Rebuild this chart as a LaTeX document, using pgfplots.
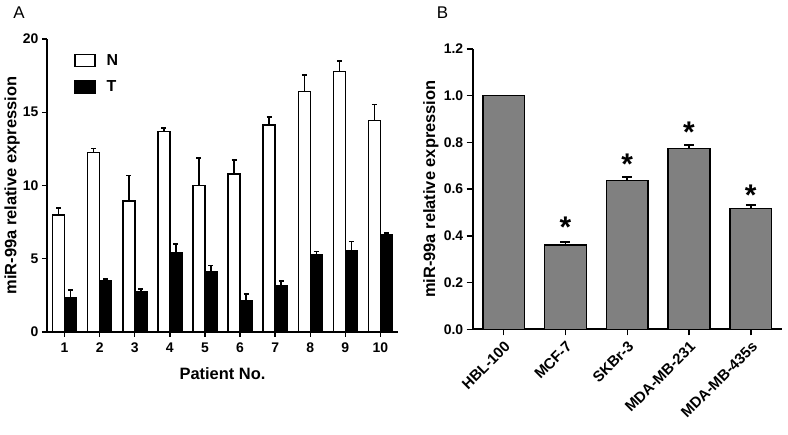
\documentclass[border=0pt]{standalone}
\usepackage{pgfplots}
\pgfplotsset{compat=1.18}
\usepackage{fontspec}
\setmainfont{Liberation Sans}
\definecolor{bargray}{RGB}{128,128,128}
\begin{document}
\begin{tikzpicture}
\path[use as bounding box] (0,0) rectangle (788bp,435bp);
\node[font=\fontsize{17}{17}\selectfont] at (19bp,422bp) {A};
\node[font=\fontsize{17}{17}\selectfont] at (442.5bp,422bp) {B};
\begin{axis}[
  at={(47bp,103bp)}, anchor=south west,
  scale only axis, width=351bp, height=293bp,
  xmin=0.5, xmax=10.5, ymin=0, ymax=20,
  axis x line*=bottom, axis y line*=left,
  axis line style={line width=1.6bp, black},
  xtick={1,...,10}, ytick={0,5,10,15,20},
  tick align=outside, major tick length=5bp,
  tick style={line width=1.4bp, black},
  /pgf/number format/assume math mode=true,
  tick label style={font=\fontsize{14}{14}\selectfont\bfseries},
  xticklabel style={yshift=-2bp},
  xlabel={Patient No.}, ylabel={miR-99a relative expression},
  every axis x label/.style={at={(axis description cs:0.5,-0.143)}, anchor=center, font=\fontsize{16.5}{16.5}\selectfont\bfseries},
  every axis y label/.style={at={(axis description cs:-0.0997,0.5)}, anchor=center, rotate=90, font=\fontsize{16.5}{16.5}\selectfont\bfseries},
  ybar=0pt, bar width=12bp,
  legend style={draw=none, fill=none, at={(axis description cs:0.077,0.955)}, anchor=north west,
    font=\fontsize{16}{16}\selectfont\bfseries, row sep=10bp, column sep=9bp, inner sep=0pt},
  legend cell align=left,
  legend image code/.code={\draw[#1] (0bp,-6bp) rectangle (20bp,6bp);},
]
\addplot[fill=white, draw=black, line width=1.5bp,
  error bars/.cd, y dir=plus, y explicit,
  error bar style={line width=1.5bp, black},
  error mark options={rotate=90, mark size=2.5bp, line width=1.5bp, black}]
coordinates {
(1,8.0) +- (0,0.45)
(2,12.25) +- (0,0.28)
(3,8.93) +- (0,1.75)
(4,13.67) +- (0,0.27)
(5,10.0) +- (0,1.89)
(6,10.8) +- (0,0.93)
(7,14.13) +- (0,0.55)
(8,16.4) +- (0,1.14)
(9,17.79) +- (0,0.71)
(10,14.42) +- (0,1.1)
};
\addlegendentry{N}
\addplot[fill=black, draw=black, line width=1.5bp,
  error bars/.cd, y dir=plus, y explicit,
  error bar style={line width=1.5bp, black},
  error mark options={rotate=90, mark size=2.5bp, line width=1.5bp, black}]
coordinates {
(1,2.37) +- (0,0.5)
(2,3.51) +- (0,0.11)
(3,2.75) +- (0,0.19)
(4,5.4) +- (0,0.61)
(5,4.1) +- (0,0.43)
(6,2.12) +- (0,0.48)
(7,3.14) +- (0,0.33)
(8,5.28) +- (0,0.22)
(9,5.54) +- (0,0.63)
(10,6.63) +- (0,0.14)
};
\addlegendentry{T}
\end{axis}

\begin{axis}[
  at={(472.7bp,105.7bp)}, anchor=south west,
  scale only axis, width=309bp, height=280.3bp,
  xmin=-0.5, xmax=4.5, ymin=0, ymax=1.2,
  axis x line*=bottom, axis y line*=left,
  axis line style={line width=1.6bp, black},
  xtick={0,...,4},
  xticklabels={HBL-100, MCF-7, SKBr-3, MDA-MB-231, MDA-MB-435s},
  ytick={0,0.2,0.4,0.6,0.8,1.0,1.2},
  yticklabel style={/pgf/number format/.cd, fixed, fixed zerofill, precision=1},
  tick align=outside, major tick length=6bp,
  tick style={line width=1.4bp, black},
  /pgf/number format/assume math mode=true,
  tick label style={font=\fontsize{14}{14}\selectfont\bfseries},
  xticklabel style={rotate=45, anchor=north east, font=\fontsize{15}{15}\selectfont\bfseries},
  ylabel={miR-99a relative expression},
  every axis y label/.style={at={(axis description cs:-0.135,0.5)}, anchor=center, rotate=90, font=\fontsize{16.5}{16.5}\selectfont\bfseries},
]
\addplot[ybar, bar width=41.7bp, fill=bargray, draw=black, line width=1.5bp,
  error bars/.cd, y dir=plus, y explicit,
  error bar style={line width=1.5bp, black},
  error mark options={rotate=90, mark size=5bp, line width=1.5bp, black}]
coordinates {
(0,1.0) +- (0,0)
(1,0.361) +- (0,0.013)
(2,0.638) +- (0,0.015)
(3,0.775) +- (0,0.014)
(4,0.518) +- (0,0.014)
};
\addplot[draw=none, mark=none,
  nodes near coords={\fontsize{30}{30}\selectfont\bfseries *},
  every node near coord/.style={anchor=center, inner sep=0pt}]
coordinates {
(1,0.435)
(2,0.708)
(3,0.845)
(4,0.573)
};
\end{axis}
\end{tikzpicture}
\end{document}
